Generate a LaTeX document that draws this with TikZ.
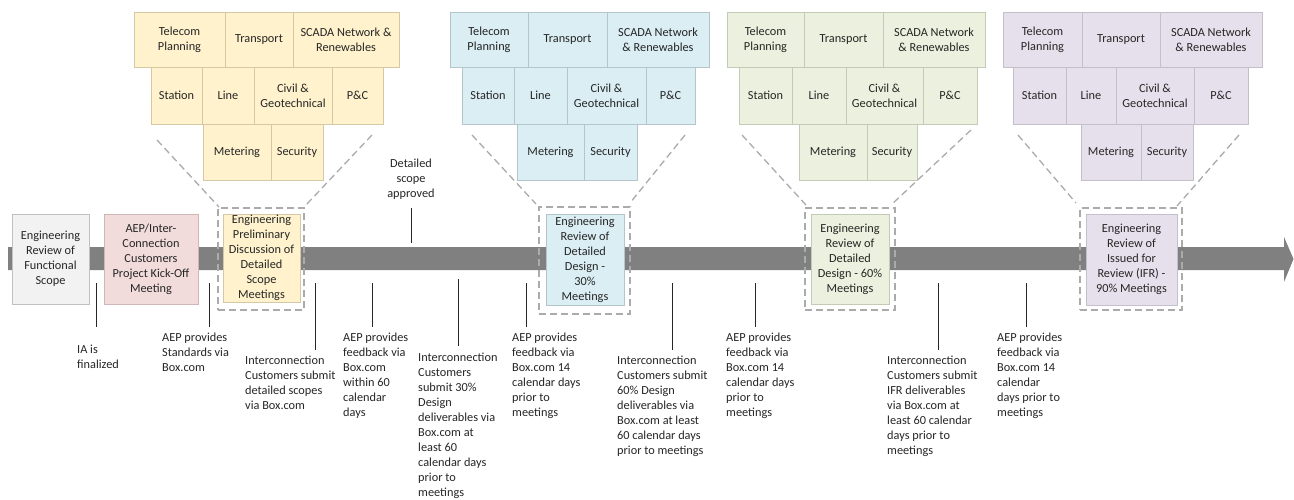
\documentclass[tikz,border=0pt]{standalone}
\usepackage{fontspec}
\setmainfont{Carlito}
\newcommand\fs{\fontsize{12.3}{15}\selectfont}
\newcommand\cellbox[7]{\node[#1, minimum width={#5-#3}, minimum height={#6-#4}] (#2) at ({(#3+#5)/2},{(#4+#6)/2}) {#7};}
\newcommand\tickmark[4]{\coordinate (#1a) at (#2,#3); \coordinate (#1b) at (#2,#4); \draw[tickline] (#1a) -- (#1b);}
\newcommand\funnelline[5]{\coordinate (#1a) at (#2,#3); \coordinate (#1b) at (#4,#5); \draw[funnel] (#1a) -- (#1b);}
\definecolor{yfill}{HTML}{FFF2CC}\definecolor{ydraw}{HTML}{D5C9A5}
\definecolor{bfill}{HTML}{DAEEF3}\definecolor{bdraw}{HTML}{B4C6CB}
\definecolor{gfill}{HTML}{EBF1DE}\definecolor{gdraw}{HTML}{C3CAB5}
\definecolor{pfill}{HTML}{E6E0EC}\definecolor{pdraw}{HTML}{C4C0CA}
\definecolor{kfill}{HTML}{F2F2F2}\definecolor{kdraw}{HTML}{C0C0C0}
\definecolor{rfill}{HTML}{F2DCDB}\definecolor{rdraw}{HTML}{CDB8B7}
\definecolor{barc}{HTML}{808080}
\definecolor{dashc}{HTML}{ABABAB}
\definecolor{txt}{HTML}{262626}
\tikzset{
  cell/.style={draw, line width=0.9pt, inner sep=1pt, align=center, font=\fs, text=txt},
  ycell/.style={cell, fill=yfill, draw=ydraw},
  bcell/.style={cell, fill=bfill, draw=bdraw},
  gcell/.style={cell, fill=gfill, draw=gdraw},
  pcell/.style={cell, fill=pfill, draw=pdraw},
  kcell/.style={cell, fill=kfill, draw=kdraw},
  rcell/.style={cell, fill=rfill, draw=rdraw},
  dashbox/.style={draw=dashc, line width=1.3pt, dash pattern=on 7pt off 4pt, inner sep=0pt},
  funnel/.style={draw=dashc, line width=1.3pt, dash pattern=on 7pt off 4pt},
  tickline/.style={draw=txt, line width=0.9pt},
  lbl/.style={font=\fs, align=left, anchor=north west, inner sep=0pt, text=txt, execute at begin node=\strut},
}
\begin{document}
\begin{tikzpicture}[x=1pt,y=-1pt]
\useasboundingbox (0,0) rectangle (1294,500);
\fill[white] (0,0) rectangle (1294,500);
% timeline bar
\fill[barc] (8,247) -- (1284,247) -- (1284,237) -- (1293.5,259) -- (1284,282) -- (1284,270) -- (8,270) -- cycle;
% dashed frames
\cellbox{dashbox}{yframe}{218}{208}{304}{310}{}
\cellbox{dashbox}{bframe}{539}{207}{630}{314}{}
\cellbox{dashbox}{gframe}{805}{208}{895}{310}{}
\cellbox{dashbox}{pframe}{1080}{208}{1182}{310}{}
% timeline boxes
\cellbox{kcell}{func}{12}{214}{89}{304}{Engineering\\Review of\\Functional\\Scope}
\cellbox{rcell}{kick}{104}{214}{198}{304}{AEP/Inter-\\Connection\\Customers\\Project Kick-Off\\Meeting}
\cellbox{ycell}{prelim}{223}{214}{300}{302}{Engineering\\Preliminary\\Discussion of\\Detailed\\Scope\\Meetings}
\cellbox{bcell}{d30}{546}{214}{624}{305}{Engineering\\Review of\\Detailed\\Design -\\30\%\\Meetings}
\cellbox{gcell}{d60}{811}{214}{889}{304}{Engineering\\Review of\\Detailed\\Design - 60\%\\Meetings}
\cellbox{pcell}{ifr}{1086}{214}{1177}{305}{Engineering\\Review of\\Issued for\\Review (IFR) -\\90\% Meetings}
% yellow group
\cellbox{ycell}{yTel}{134}{12}{225}{67}{Telecom\\Planning}
\cellbox{ycell}{yTra}{225}{12}{293}{67}{Transport}
\cellbox{ycell}{ySca}{293}{12}{399}{67}{SCADA Network \&\\Renewables}
\cellbox{ycell}{ySta}{151}{67}{202}{124}{Station}
\cellbox{ycell}{yLin}{202}{67}{254}{124}{Line}
\cellbox{ycell}{yCiv}{254}{67}{332}{124}{Civil \&\\Geotechnical}
\cellbox{ycell}{yPC}{332}{67}{383}{124}{P\&C}
\cellbox{ycell}{yMet}{203}{124}{271}{180}{Metering}
\cellbox{ycell}{ySec}{271}{124}{323}{180}{Security}
% blue group
\cellbox{bcell}{bTel}{450}{12}{528}{67}{Telecom\\Planning}
\cellbox{bcell}{bTra}{528}{12}{607}{67}{Transport}
\cellbox{bcell}{bSca}{607}{12}{709}{67}{SCADA Network\\\& Renewables}
\cellbox{bcell}{bSta}{462}{67}{514}{124}{Station}
\cellbox{bcell}{bLin}{514}{67}{567}{124}{Line}
\cellbox{bcell}{bCiv}{567}{67}{646}{124}{Civil \&\\Geotechnical}
\cellbox{bcell}{bPC}{646}{67}{695}{124}{P\&C}
\cellbox{bcell}{bMet}{517}{124}{584}{180}{Metering}
\cellbox{bcell}{bSec}{584}{124}{637}{180}{Security}
% green group
\cellbox{gcell}{gTel}{727}{12}{804}{67}{Telecom\\Planning}
\cellbox{gcell}{gTra}{804}{12}{883}{67}{Transport}
\cellbox{gcell}{gSca}{883}{12}{985}{67}{SCADA Network\\\& Renewables}
\cellbox{gcell}{gSta}{739}{67}{792}{124}{Station}
\cellbox{gcell}{gLin}{792}{67}{846}{124}{Line}
\cellbox{gcell}{gCiv}{846}{67}{923}{124}{Civil \&\\Geotechnical}
\cellbox{gcell}{gPC}{923}{67}{977}{124}{P\&C}
\cellbox{gcell}{gMet}{799}{124}{867}{180}{Metering}
\cellbox{gcell}{gSec}{867}{124}{917}{180}{Security}
% purple group
\cellbox{pcell}{pTel}{1003}{12}{1082}{67}{Telecom\\Planning}
\cellbox{pcell}{pTra}{1082}{12}{1160}{67}{Transport}
\cellbox{pcell}{pSca}{1160}{12}{1262}{67}{SCADA Network\\\& Renewables}
\cellbox{pcell}{pSta}{1013}{67}{1066}{124}{Station}
\cellbox{pcell}{pLin}{1066}{67}{1116}{124}{Line}
\cellbox{pcell}{pCiv}{1116}{67}{1194}{124}{Civil \&\\Geotechnical}
\cellbox{pcell}{pPC}{1194}{67}{1248}{124}{P\&C}
\cellbox{pcell}{pMet}{1081}{124}{1141}{180}{Metering}
\cellbox{pcell}{pSec}{1141}{124}{1193}{180}{Security}
% funnel lines
\funnelline{yl}{157}{140}{219}{207}
\funnelline{yr}{372}{135}{306}{205}
\funnelline{bl}{472}{135}{536}{204}
\funnelline{br}{685}{135}{630}{203}
\funnelline{gl}{742}{135}{806}{205}
\funnelline{gr}{971}{130}{891}{205}
\funnelline{pl}{1018}{135}{1076}{203}
\funnelline{pr}{1239}{135}{1177}{206}
% ticks
\tickmark{t1}{96}{283}{327}
\tickmark{t2}{209}{283}{327}
\tickmark{t3}{315}{283}{350}
\tickmark{t4}{372}{283}{327}
\tickmark{t5}{458}{279}{346}
\tickmark{t6}{526}{283}{327}
\tickmark{t7}{672}{283}{350}
\tickmark{t8}{755}{283}{327}
\tickmark{t9}{938}{283}{350}
\tickmark{t10}{1026}{283}{327}
\tickmark{t11}{411}{208}{243}
% labels
\node[font=\fs, align=center, anchor=north, inner sep=0pt, text=txt, execute at begin node=\strut] (approved) at (411,158.5) {Detailed\\scope\\approved};
\node[lbl] (l1) at (77,344.5) {IA is\\finalized};
\node[lbl] (l2) at (162,332.5) {AEP provides\\Standards via\\Box.com};
\node[lbl] (l3) at (245,355.5) {Interconnection\\Customers submit\\detailed scopes\\via Box.com};
\node[lbl] (l4) at (343,332.5) {AEP provides\\feedback via\\Box.com\\within 60\\calendar\\days};
\node[lbl] (l5) at (418,352.5) {Interconnection\\Customers\\submit 30\%\\Design\\deliverables via\\Box.com at\\least 60\\calendar days\\prior to\\meetings};
\node[lbl] (l6) at (512,332.5) {AEP provides\\feedback via\\Box.com 14\\calendar days\\prior to\\meetings};
\node[lbl] (l7) at (617,355.5) {Interconnection\\Customers submit\\60\% Design\\deliverables via\\Box.com at least\\60 calendar days\\prior to meetings};
\node[lbl] (l8) at (726,332.5) {AEP provides\\feedback via\\Box.com 14\\calendar days\\prior to\\meetings};
\node[lbl] (l9) at (887,355.5) {Interconnection\\Customers submit\\IFR deliverables\\via Box.com at\\least 60 calendar\\days prior to\\meetings};
\node[lbl] (l10) at (997,332.5) {AEP provides\\feedback via\\Box.com 14\\calendar\\days prior to\\meetings};
\end{tikzpicture}
\end{document}
